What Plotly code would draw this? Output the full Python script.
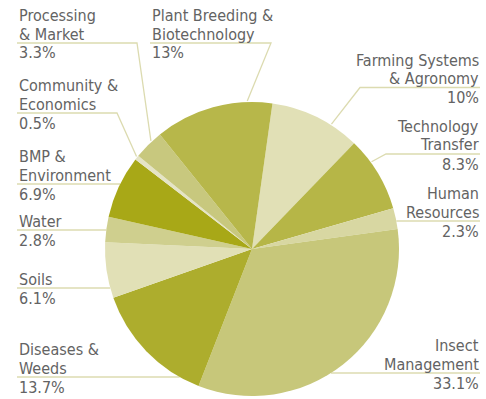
import math
import plotly.graph_objects as go

# Research funding by program area, listed clockwise from the top
categories = [
    "Farming Systems\n& Agronomy",
    "Technology\nTransfer",
    "Human\nResources",
    "Insect\nManagement",
    "Diseases &\nWeeds",
    "Soils",
    "Water",
    "BMP &\nEnvironment",
    "Community &\nEconomics",
    "Processing\n& Market",
    "Plant Breeding &\nBiotechnology",
]
shares = [10, 8.3, 2.3, 33.1, 13.7, 6.1, 2.8, 6.9, 0.5, 3.3, 13]
slice_colors = [
    "#e1e0b6", "#b6b647", "#d8d7a2", "#c7c77a", "#adad2d", "#e1e0b6",
    "#cfcf8e", "#a8a817", "#e5e4c6", "#c8c87e", "#b7b74a",
]

W, H = 486, 399
CX, CY, R = 252, 249, 147      # pie centre and radius in pixels
START = 8                      # first slice starts 8 degrees past 12 o'clock
LINE_GAP = 18.3                # distance between label text lines
FONT = dict(family="DejaVu Sans Condensed, Liberation Sans Narrow, Roboto, sans-serif",
            size=16, color="#636363")
LEADER = "#dcdbb0"

# label placement: text anchor x, underline y, elbow x (None = runs straight
# to the pie), and where along the slice the leader line lands
label_layout = [
    ("right", 480, 87.5, 360, 0.68),
    ("right", 480, 154, 386, 0.33),
    ("right", 480, 221, None, None),
    ("right", 480, 373, None, None),
    ("left", 18, 377, None, None),
    ("left", 18, 288, None, None),
    ("left", 18, 230, None, None),
    ("left", 18, 184, None, None),
    ("left", 18, 113, 117, 0.67),
    ("left", 18, 43, 137, 0.64),
    ("left", 151, 43, 271, 0.79),
]


def px(x):
    return x / W


def py(y):
    return 1 - y / H


fig = go.Figure(go.Pie(
    labels=[c.replace("\n", " ") for c in categories],
    values=shares,
    sort=False,
    direction="clockwise",
    rotation=START,
    marker=dict(colors=slice_colors, line=dict(width=0)),
    textinfo="none",
    hoverinfo="label+percent",
    showlegend=False,
    domain=dict(x=[px(CX - R), px(CX + R)], y=[py(CY + R), py(CY - R)]),
))

total = sum(shares)
shapes, annotations = [], []
cum = 0.0
for name, val, (side, ax, uy, elbow, frac) in zip(categories, shares, label_layout):
    a0 = START + cum / total * 360
    a1 = START + (cum + val) / total * 360
    cum += val

    # leader line: underline beneath the name, then on to the slice
    if elbow is None:
        dx = math.sqrt(R ** 2 - (uy - CY) ** 2)
        end_x = CX - dx if ax < CX else CX + dx
        pts = [(ax - 1 if side == "left" else ax, uy), (end_x, uy)]
    else:
        ang = math.radians(a0 + frac * (a1 - a0))
        ex = CX + (R + 1) * math.sin(ang)
        ey = CY - (R + 1) * math.cos(ang)
        pts = [(ax - 1 if side == "left" else ax, uy), (elbow, uy), (ex, ey)]
    path = "M " + " L ".join(f"{px(x):.5f},{py(y):.5f}" for x, y in pts)
    shapes.append(dict(type="path", path=path, xref="paper", yref="paper",
                       line=dict(color=LEADER, width=1.3), layer="below"))

    # label text, one annotation per line so the leading stays tight
    name_lines = name.split("\n")
    n = len(name_lines)
    rows = [(t, uy - 3.5 - (n - 1 - i) * LINE_GAP) for i, t in enumerate(name_lines)]
    rows.append((f"{val:g}%", uy + 15.5))
    for text, baseline in rows:
        annotations.append(dict(
            text=text, x=px(ax), y=py(baseline - 5.5), xref="paper", yref="paper",
            xanchor=side, yanchor="middle", showarrow=False, borderpad=0,
            font=FONT,
        ))

fig.update_layout(
    width=W, height=H,
    margin=dict(l=0, r=0, t=0, b=0),
    paper_bgcolor="white",
    plot_bgcolor="white",
    shapes=shapes,
    annotations=annotations,
)

fig.write_html("out.html")
